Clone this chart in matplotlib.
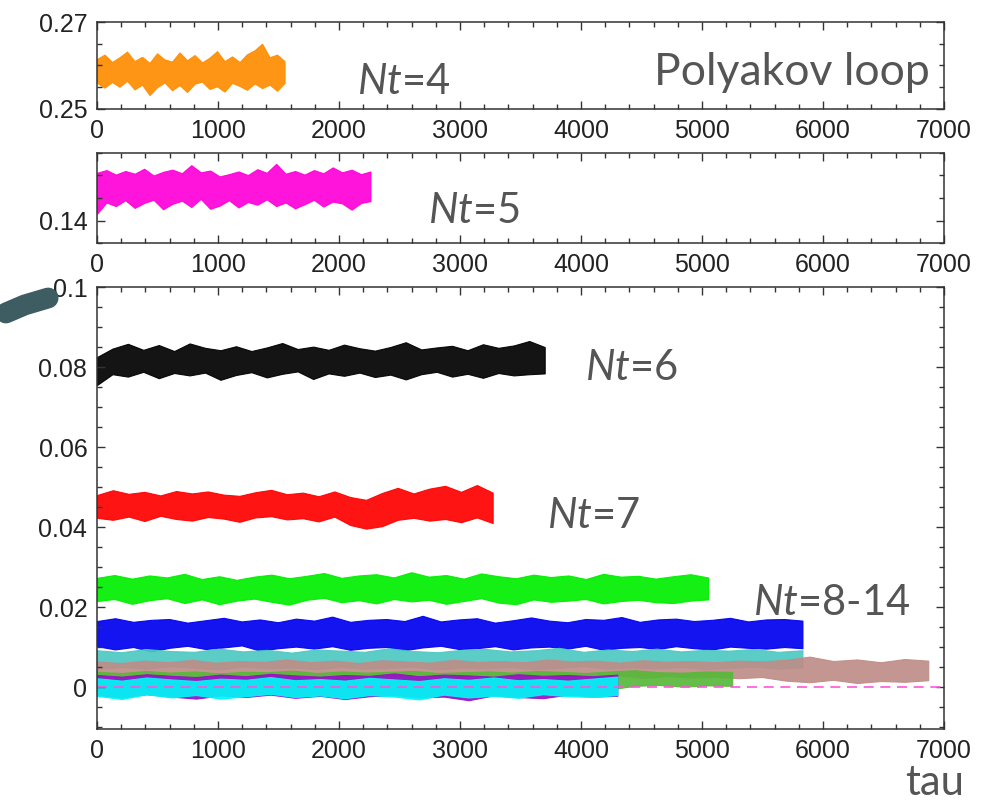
import numpy as np
import matplotlib
matplotlib.use('Agg')
import matplotlib.pyplot as plt
from matplotlib.ticker import MultipleLocator, FixedLocator, FuncFormatter
from matplotlib.lines import Line2D

plt.rcParams['font.family'] = 'Liberation Sans'
plt.rcParams['mathtext.fontset'] = 'custom'
plt.rcParams['mathtext.rm'] = 'Lato'
plt.rcParams['mathtext.it'] = 'Lato:italic'

# Monte Carlo histories: upper / lower edge of each noisy
# band, in units of 1e-3, sampled evenly from tau=0 to the end of the run.
orange_end = 1550
orange_hi = [261.5, 262.5, 260.8, 261.9, 263.2, 261.0, 262.0, 260.6, 262.8, 261.4,
             260.9, 263.0, 261.2, 262.4, 260.7, 261.8, 263.3, 261.0, 262.1, 260.8,
             262.6, 263.5, 265.0, 261.9, 262.5, 261.0]
orange_lo = [256.0, 254.9, 256.2, 255.1, 256.5, 254.5, 255.6, 253.2, 255.0, 256.1,
             254.3, 255.5, 253.9, 255.8, 256.3, 254.6, 255.2, 254.0, 256.0, 255.3,
             254.4, 255.9, 254.8, 255.6, 254.2, 256.0]

magenta_end = 2260
magenta_hi = [150.6, 151.2, 150.2, 151.0, 150.4, 151.5, 150.0, 150.8, 151.3, 150.5,
              152.3, 150.7, 151.1, 149.8, 150.3, 150.9, 150.1, 151.4, 150.6, 152.6,
              150.4, 151.0, 150.2, 151.2, 150.5, 151.8, 150.7, 151.3, 150.3, 150.9]
magenta_lo = [141.5, 144.0, 143.2, 144.5, 142.8, 143.9, 144.6, 142.5, 143.7, 144.4,
              143.0, 144.8, 142.6, 143.3, 144.5, 142.9, 144.1, 143.5, 144.7, 143.2,
              144.0, 142.7, 143.6, 144.6, 143.1, 144.2, 143.8, 142.4, 143.9, 144.3]

black_end = 3700
black_hi = [82.5, 84.6, 85.8, 84.3, 85.5, 84.0, 85.9, 84.8, 84.2, 85.2,
            84.0, 84.9, 86.0, 84.5, 85.1, 84.3, 85.6, 84.7, 84.1, 85.0,
            86.2, 84.4, 84.9, 85.3, 84.2, 85.7, 84.8, 85.4, 86.5, 85.0]
black_lo = [75.5, 78.2, 77.6, 78.8, 77.2, 78.5, 77.9, 78.6, 76.8, 78.0,
            78.7, 77.4, 78.3, 78.9, 77.0, 78.4, 77.8, 78.6, 77.5, 78.1,
            76.9, 78.2, 78.8, 77.6, 78.3, 77.3, 78.5, 77.9, 78.2, 78.4]

red_end = 3270
red_hi = [48.0, 49.2, 48.3, 48.8, 47.9, 49.0, 48.4, 48.9, 48.1, 47.8,
          48.7, 49.3, 48.2, 48.6, 47.7, 48.9, 47.5, 46.8, 48.5, 49.8,
          48.4, 49.6, 50.3, 48.8, 50.5, 48.6]
red_lo = [42.3, 41.8, 42.6, 41.5, 42.8, 42.0, 41.6, 42.5, 42.1, 41.3,
          42.4, 42.7, 41.9, 42.2, 41.4, 42.6, 40.5, 39.6, 40.2, 41.8,
          42.3, 41.6, 42.0, 41.2, 42.4, 41.0]

green_end = 5050
green_hi = [27.3, 28.0, 27.1, 27.9, 27.4, 28.3, 27.0, 27.7, 26.8, 27.6,
            28.1, 27.2, 27.8, 28.5, 27.3, 27.9, 28.2, 27.4, 28.7, 27.6,
            28.0, 27.1, 28.4, 27.7, 27.2, 28.1, 27.5, 27.9, 27.0, 28.3,
            27.6, 27.8, 27.1, 27.7, 28.2, 27.4]
green_lo = [21.5, 22.0, 20.8, 21.7, 22.2, 21.0, 21.9, 20.7, 21.6, 22.1,
            21.3, 20.6, 21.8, 22.3, 21.2, 21.7, 20.9, 22.0, 21.4, 21.8,
            20.8, 21.5, 22.2, 21.1, 20.7, 21.9, 21.3, 21.6, 22.0, 20.9,
            21.5, 21.8, 21.2, 21.0, 21.6, 21.9]

blue_end = 5830
blue_hi = [16.5, 17.2, 16.3, 16.8, 17.0, 16.1, 16.7, 17.3, 16.4, 16.9,
           16.2, 17.1, 16.6, 17.6, 16.3, 16.8, 17.0, 16.5, 17.8, 16.4,
           16.9, 17.2, 16.1, 16.7, 17.4, 16.6, 16.2, 17.0, 16.8, 17.5,
           16.3, 16.9, 17.1, 16.5, 16.8, 17.3, 16.4, 16.9, 17.0, 16.6]
blue_lo = [10.2, 9.4, 10.0, 8.9, 9.8, 10.3, 9.5, 9.9, 10.4, 9.1,
           9.7, 10.1, 9.6, 10.2, 9.3, 9.8, 10.0, 9.2, 9.9, 10.3,
           9.5, 9.7, 10.2, 9.4, 9.9, 10.1, 9.6, 10.3, 9.3, 9.8,
           10.0, 9.5, 10.2, 9.7, 9.4, 10.1, 9.8, 9.6, 10.0, 9.7]

turq_end = 5830
turq_hi = [9.2, 8.7, 9.5, 9.0, 8.8, 9.6, 8.9, 9.3, 8.6, 9.4,
           9.1, 8.8, 9.7, 9.0, 8.7, 9.3, 9.5, 8.9, 9.2, 9.8,
           8.8, 9.4, 9.0, 9.6, 8.9, 9.3, 9.1, 9.5, 8.8, 9.2]
turq_lo = [4.5, 5.0, 4.6, 5.2, 4.8, 4.4, 5.1, 4.7, 4.9, 4.5,
           5.0, 4.6, 4.8, 5.1, 4.4, 4.9, 4.7, 5.0, 4.5, 4.8,
           5.2, 4.6, 4.9, 4.7, 5.0, 4.5, 4.8, 5.1, 4.6, 4.9]

brown_end = 6870
brown_hi = [6.4, 6.0, 6.6, 6.2, 6.8, 6.1, 6.5, 6.3, 6.9, 6.2,
            6.6, 6.0, 6.7, 6.4, 6.1, 6.8, 6.3, 6.5, 6.2, 6.9,
            6.4, 6.6, 6.1, 6.7, 6.3, 6.5, 6.2, 6.6, 6.4, 6.8,
            7.6, 6.5, 6.9, 6.2, 7.0, 6.6]
brown_lo = [2.4, 2.8, 2.2, 2.6, 2.9, 2.3, 2.7, 2.5, 2.1, 2.8,
            2.4, 2.6, 2.2, 2.9, 2.5, 2.3, 2.7, 2.4, 2.8, 2.2,
            2.6, 2.5, 2.9, 2.3, 2.7, 2.4, 2.6, 2.2, 2.5, 1.6,
            1.2, 1.8, 1.0, 1.5, 1.3, 1.7]

olive_end = 5250
olive_hi = [3.8, 3.5, 4.0, 3.6, 3.9, 3.4, 3.8, 3.7, 4.1, 3.5,
            3.9, 3.6, 3.8, 4.0, 3.5, 3.7, 3.9, 3.6, 4.0, 3.8,
            3.5, 3.9, 4.2, 3.7, 3.6, 3.9, 3.8]
olive_lo = [0.5, 0.2, 0.6, 0.3, 0.1, 0.5, 0.4, 0.2, 0.6, 0.3,
            0.5, 0.1, 0.4, 0.6, 0.2, 0.5, 0.3, 0.4, 0.6, 0.2,
            0.4, -0.6, 0.3, 0.5, 0.1, 0.4, 0.3]

purple_end = 4300
purple_hi = [3.0, 2.6, 3.2, 2.8, 2.5, 3.1, 2.7, 3.3, 2.9, 2.6, 3.0,
             2.8, 3.4, 2.7, 3.1, 2.9, 2.6, 3.2, 2.8, 3.0, 2.7, 3.1]
purple_lo = [-2.0, -2.6, -1.8, -2.4, -2.9, -2.1, -2.5, -1.9, -2.7, -2.2, -3.0,
             -2.3, -2.0, -2.6, -2.4, -3.3, -2.1, -2.5, -2.8, -1.9, -2.4, -2.2]

cyan_end = 4300
cyan_hi = [2.2, 1.6, 2.4, 1.9, 1.5, 2.1, 1.8, 2.5, 1.7, 2.0, 1.6,
           2.3, 1.9, 1.5, 2.2, 1.8, 2.4, 1.7, 2.0, 1.6, 2.1, 2.6]
cyan_lo = [-2.2, -3.0, -1.8, -2.6, -2.0, -2.9, -2.3, -1.7, -2.5, -2.1, -2.8,
           -2.0, -2.4, -3.1, -1.9, -2.6, -2.2, -2.7, -1.8, -2.3, -2.5, -2.0]

TXT = '#555555'


def band(ax, end, hi, lo, color):
    """Banda ruidosa entre los bordes leídos"""
    x = np.linspace(0, end, len(hi))
    ax.fill_between(x, np.array(lo) * 1e-3, np.array(hi) * 1e-3,
                    facecolor=color, alpha=0.92, lw=0.8, edgecolor=color)


def style(ax):
    ax.set_xlim(0, 7000)
    ax.xaxis.set_major_locator(MultipleLocator(1000))
    ax.xaxis.set_minor_locator(MultipleLocator(200))
    ax.tick_params(which='both', direction='in', top=True, right=True,
                   labelsize=18, labelcolor='#222222', width=1, pad=7,
                   color='#333333')
    ax.tick_params(which='major', length=6)
    ax.tick_params(which='minor', length=3.5)
    for s in ax.spines.values():
        s.set_color('#333333')
        s.set_linewidth(1.1)
    ax.yaxis.set_major_formatter(FuncFormatter(lambda v, p: '%g' % round(v, 4)))


fig = plt.figure(figsize=(9.82, 8.06), dpi=100)
fig.patch.set_facecolor('white')

ax1 = fig.add_axes([0.0988, 0.8648, 0.8625, 0.1079])
ax2 = fig.add_axes([0.0988, 0.6985, 0.8625, 0.1117])
ax3 = fig.add_axes([0.0988, 0.0955, 0.8625, 0.5484])

# Panel superior
band(ax1, orange_end, orange_hi, orange_lo, '#ff8c00')
ax1.set_ylim(0.25, 0.27)
ax1.yaxis.set_major_locator(FixedLocator([0.25, 0.27]))
ax1.yaxis.set_minor_locator(MultipleLocator(0.005))

# Panel intermedio
band(ax2, magenta_end, magenta_hi, magenta_lo, '#ff00d8')
ax2.set_ylim(0.135, 0.155)
ax2.yaxis.set_major_locator(FixedLocator([0.14]))
ax2.yaxis.set_minor_locator(MultipleLocator(0.005))

# Panel inferior
band(ax3, black_end, black_hi, black_lo, '#000000')
band(ax3, red_end, red_hi, red_lo, '#ff0000')
band(ax3, green_end, green_hi, green_lo, '#00ee00')
band(ax3, blue_end, blue_hi, blue_lo, '#0000f0')
band(ax3, turq_end, turq_hi, turq_lo, '#4ec8c2')
band(ax3, brown_end, brown_hi, brown_lo, '#bf8d88')
band(ax3, olive_end, olive_hi, olive_lo, '#58b83a')
band(ax3, purple_end, purple_hi, purple_lo, '#9a10c8')
band(ax3, cyan_end, cyan_hi, cyan_lo, '#00f6f6')
ax3.axhline(0, color='#ff55dd', lw=1.2, ls=(0, (6, 4)))
ax3.set_ylim(-0.0105, 0.1)
ax3.yaxis.set_major_locator(MultipleLocator(0.02))
ax3.yaxis.set_minor_locator(MultipleLocator(0.005))

for ax in (ax1, ax2, ax3):
    style(ax)

# Etiquetas
kw = dict(color=TXT, family='Lato', va='baseline')
ax1.text(2150, 0.25 + (109 - 94) / 87 * 0.02, r'$\mathit{Nt}$=4', ha='left', fontsize=30, **kw)
ax1.text(6880, 0.25 + (109 - 85) / 87 * 0.02, 'Polyakov loop', ha='right', fontsize=32, **kw)
ax2.text(2735, 0.14 + (220 - 222) / 45 * 0.01, r'$\mathit{Nt}$=5', ha='left', fontsize=30, **kw)
ax3.text(4035, (687 - 380) / 4000, r'$\mathit{Nt}$=6', ha='left', fontsize=30, **kw)
ax3.text(3715, (687 - 528) / 4000, r'$\mathit{Nt}$=7', ha='left', fontsize=30, **kw)
ax3.text(5420, (687 - 615) / 4000, r'$\mathit{Nt}$=8-14', ha='left', fontsize=30, **kw)
fig.text(0.9215, 0.014, 'tau', ha='left', fontsize=30, **kw)

# Trazo decorativo a la izquierda
fig.add_artist(Line2D([0.006, 0.025, 0.049], [1 - 313 / 806, 1 - 305 / 806, 1 - 298 / 806],
                      transform=fig.transFigure, color='#3d5d63', lw=15,
                      solid_capstyle='round'))

fig.savefig('out.png', dpi=100)
